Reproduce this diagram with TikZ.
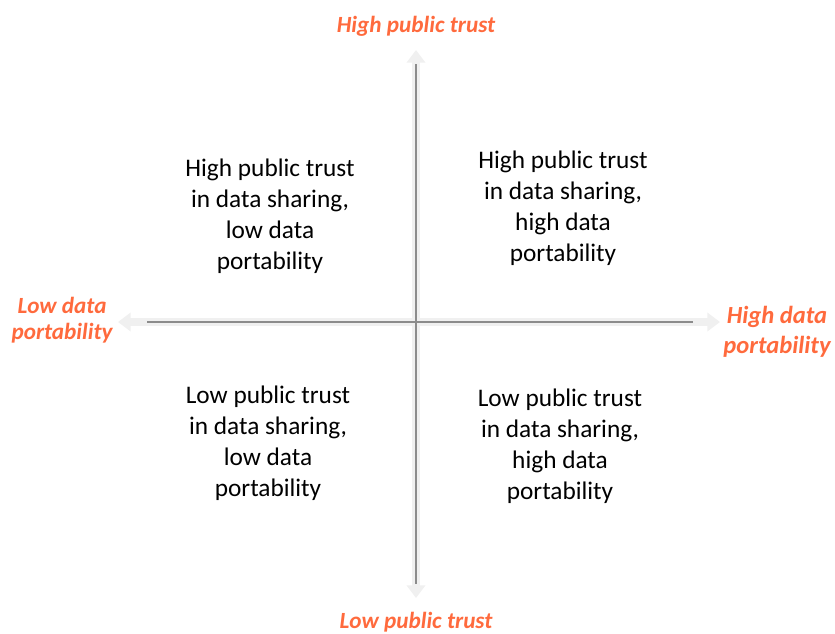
\documentclass[tikz,border=0pt]{standalone}
\usepackage{fontspec}
\setmainfont{Carlito}
\usetikzlibrary{arrows.meta}
\definecolor{poleorange}{HTML}{FF6A3D}
\definecolor{axisgray}{HTML}{8C8C8C}
\definecolor{tipgray}{HTML}{F0F0F0}
\begin{document}
\begin{tikzpicture}[
            x=0.025cm, y=-0.025cm,
            quad/.style={align=center, font=\fontsize{18}{22}\selectfont},
            pole/.style={align=center, text=poleorange, font=\bfseries\itshape\fontsize{16.5}{18.5}\selectfont},
            halo/.style={-{Triangle[width=13pt, length=9pt]}, line width=5pt, tipgray},
            axis/.style={line width=1.6pt, axisgray}
        ]
        \useasboundingbox (0,0) rectangle (835,633);
        \coordinate (o) at (416,322);
        \coordinate (top) at (416,50);
        \coordinate (bottom) at (416,598);
        \coordinate (left) at (118,322);
        \coordinate (right) at (720,322);

        % pale arrow bodies under the axes
        \draw[halo] (o) -- (top);
        \draw[halo] (o) -- (bottom);
        \draw[halo] (o) -- (left);
        \draw[halo] (o) -- (right);
        \draw[axis] (416,64) -- (416,584);
        \draw[axis] (147,322) -- (693,322);

        \node[pole] (high trust) at (416,26) {High public trust};
        \node[pole] (low trust) at (416,622) {Low public trust};
        \node[pole] (low port) at (62,320) {Low data\\portability};
        \node[pole, font=\bfseries\itshape\fontsize{17.5}{21}\selectfont] (high port) at (777,332) {High data\\portability};

        \node[quad] (q hl) at (270,216) {High public trust\\in data sharing,\\low data\\portability};
        \node[quad] (q hh) at (563,208) {High public trust\\in data sharing,\\high data\\portability};
        \node[quad] (q ll) at (268,443) {Low public trust\\in data sharing,\\low data\\portability};
        \node[quad] (q lh) at (560,446) {Low public trust\\in data sharing,\\high data\\portability};
    \end{tikzpicture}
\end{document}
